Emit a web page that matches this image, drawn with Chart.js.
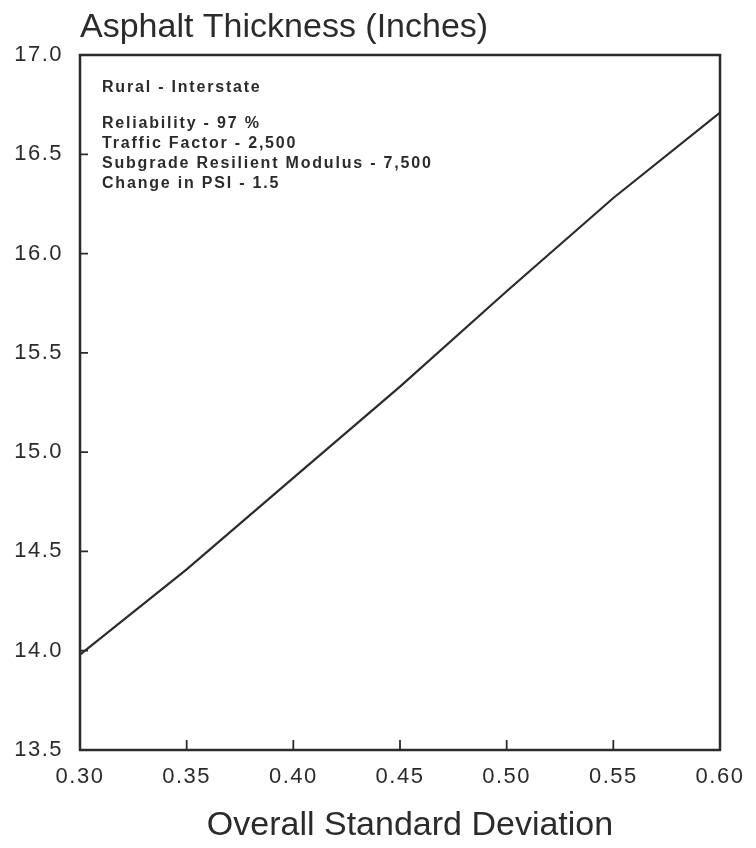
<!DOCTYPE html>
<html>
<head>
<meta charset="utf-8">
<script src="https://cdn.jsdelivr.net/npm/chart.js@4"></script>
<style>
  html, body { margin: 0; padding: 0; background: #fff; }
  #wrap { width: 756px; height: 848px; }
</style>
</head>
<body>
<div id="wrap"><canvas id="graph" width="756" height="848"></canvas></div>
<script>
// Design thickness vs. overall standard deviation
var deviation = [0.30, 0.35, 0.40, 0.45, 0.50, 0.55, 0.60];
var thickness = [13.98, 14.41, 14.87, 15.33, 15.81, 16.28, 16.71];

var yTicks = [13.5, 14.0, 14.5, 15.0, 15.5, 16.0, 16.5, 17.0];
var xTicks = [0.30, 0.35, 0.40, 0.45, 0.50, 0.55, 0.60];

var titleText = "Asphalt Thickness (Inches)";
var xTitleText = "Overall Standard Deviation";
var caseLabel = "Rural - Interstate";
var inputLines = [
    "Reliability - 97 %",
    "Traffic Factor - 2,500",
    "Subgrade Resilient Modulus - 7,500",
    "Change in PSI - 1.5"
];

var ink = "#2b2b2b";
var points = [];
for (var i = 0; i < deviation.length; i++) {
    points.push({x: deviation[i], y: thickness[i]});
}

// plotter-style spaced digits on the axes
var spacedTicks = {
    id: "spacedTicks",
    beforeDraw: function(chart) { chart.ctx.letterSpacing = "1.5px"; },
    beforeDatasetsDraw: function(chart) { chart.ctx.letterSpacing = "0px"; }
};

// box frame, inward tick marks and the text blocks
var plotterDecor = {
    id: "plotterDecor",
    afterDraw: function(chart) {
        var ctx = chart.ctx;
        var a = chart.chartArea;
        var xs = chart.scales.x, ys = chart.scales.y;
        ctx.save();
        ctx.strokeStyle = ink;
        ctx.lineWidth = 2.5;
        ctx.strokeRect(a.left, a.top, a.right - a.left, a.bottom - a.top);

        ctx.lineWidth = 1.8;
        ctx.beginPath();
        yTicks.forEach(function(v) {
            var py = ys.getPixelForValue(v);
            ctx.moveTo(a.left, py);
            ctx.lineTo(a.left + 8, py);
        });
        xTicks.forEach(function(v) {
            var px = xs.getPixelForValue(v);
            ctx.moveTo(px, a.bottom);
            ctx.lineTo(px, a.bottom - 10);
        });
        ctx.stroke();

        ctx.fillStyle = ink;
        ctx.textBaseline = "alphabetic";
        ctx.textAlign = "left";
        ctx.font = "34px 'Liberation Sans', Arial, sans-serif";
        ctx.fillText(titleText, a.left, 37);

        ctx.textAlign = "center";
        ctx.fillText(xTitleText, (a.left + a.right) / 2 + 10, 835);

        ctx.textAlign = "left";
        ctx.font = "bold 16px 'Liberation Sans', Arial, sans-serif";
        ctx.letterSpacing = "1.8px";
        ctx.fillText(caseLabel, a.left + 22, 92);
        inputLines.forEach(function(t, k) {
            ctx.fillText(t, a.left + 22, 128 + k * 20);
        });
        ctx.restore();
    }
};

var tickFont = {family: "'Liberation Sans', Arial, sans-serif", size: 22};

new Chart(document.getElementById("graph").getContext("2d"), {
    type: "line",
    data: {
        datasets: [{
            data: points,
            borderColor: ink,
            borderWidth: 2.2,
            pointRadius: 0,
            tension: 0,
            fill: false
        }]
    },
    options: {
        responsive: false,
        animation: false,
        layout: {padding: {top: 55, right: 36, left: 0, bottom: 0}},
        plugins: {legend: {display: false}, tooltip: {enabled: false}},
        scales: {
            x: {
                type: "linear",
                min: 0.30,
                max: 0.60,
                afterFit: function(scale) { scale.height = 98; },
                afterBuildTicks: function(scale) {
                    scale.ticks = xTicks.map(function(v) { return {value: v}; });
                },
                grid: {display: false},
                border: {display: false},
                ticks: {
                    autoSkip: false,
                    maxRotation: 0,
                    padding: 6,
                    color: ink,
                    font: tickFont,
                    callback: function(v) { return v.toFixed(2); }
                }
            },
            y: {
                min: 13.5,
                max: 17.0,
                afterFit: function(scale) { scale.width = 80; },
                afterBuildTicks: function(scale) {
                    scale.ticks = yTicks.map(function(v) { return {value: v}; });
                },
                grid: {display: false},
                border: {display: false},
                ticks: {
                    padding: 9,
                    color: ink,
                    font: tickFont,
                    callback: function(v) { return v.toFixed(1); }
                }
            }
        }
    },
    plugins: [spacedTicks, plotterDecor]
});
</script>
</body>
</html>
